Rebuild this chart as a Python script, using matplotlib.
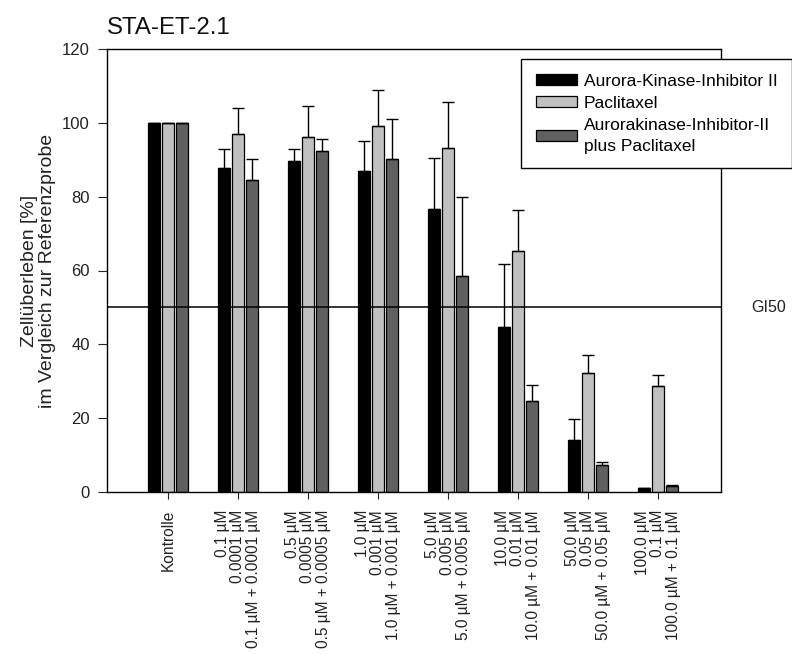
import matplotlib
matplotlib.use("Agg")
import matplotlib.pyplot as plt
import numpy as np

plt.rcParams['font.family'] = ['Liberation Sans', 'DejaVu Sans']

# data
groups = [
    "Kontrolle",
    "0.1 µM\n0.0001 µM\n0.1 µM + 0.0001 µM",
    "0.5 µM\n0.0005 µM\n0.5 µM + 0.0005 µM",
    "1.0 µM\n0.001 µM\n1.0 µM + 0.001 µM",
    "5.0 µM\n0.005 µM\n5.0 µM + 0.005 µM",
    "10.0 µM\n0.01 µM\n10.0 µM + 0.01 µM",
    "50.0 µM\n0.05 µM\n50.0 µM + 0.05 µM",
    "100.0 µM\n0.1 µM\n100.0 µM + 0.1 µM",
]
series_names = ["Aurora-Kinase-Inhibitor II", "Paclitaxel",
                "Aurorakinase-Inhibitor-II\nplus Paclitaxel"]
aurora = [100, 87.7, 89.7, 86.9, 76.6, 44.6, 14.1, 1.2]
aurora_err = [0, 5.2, 3.2, 8.1, 13.8, 17.1, 5.7, 0]
pacli = [100, 97.0, 96.2, 99.1, 93.2, 65.4, 32.3, 28.6]
pacli_err = [0, 6.9, 8.4, 9.7, 12.4, 11.1, 4.9, 3.1]
combo = [100, 84.5, 92.5, 90.1, 58.5, 24.7, 7.3, 1.6]
combo_err = [0, 5.6, 3.1, 11.0, 21.4, 4.2, 0.8, 0.3]
gi50 = 50

colors = ["#000000", "#c0c0c0", "#606060"]

fig = plt.figure(figsize=(7.92, 6.54), dpi=100)
ax = fig.add_axes([107 / 792, 1 - 492 / 654, 614 / 792, 443 / 654])

x = np.arange(len(groups))
width = 0.17
step = 0.2
for i, (vals, errs) in enumerate([(aurora, aurora_err), (pacli, pacli_err), (combo, combo_err)]):
    errs = np.array(errs)
    ax.bar(x + (i - 1) * step, vals, width, color=colors[i], edgecolor="#000000",
           linewidth=0.9, label=series_names[i], zorder=2,
           yerr=[np.zeros_like(errs), errs],
           error_kw=dict(ecolor="#000000", elinewidth=1, capsize=4.3, capthick=1))

ax.axhline(gi50, color="#000000", linewidth=1.1, zorder=3)
ax.text(1.05, gi50, "GI50", transform=ax.get_yaxis_transform(), ha="left",
        va="center", fontsize=11.5, color="#222222")

ax.set_xlim(-0.87, 7.9)
ax.set_ylim(0, 120)
ax.set_yticks(np.arange(0, 121, 20))
ax.set_xticks(x)
ax.set_xticklabels(groups, rotation=90, ha="center", va="top",
                   multialignment="right", linespacing=1.05)
ax.tick_params(axis="x", labelsize=11.2, pad=8, length=5, direction="out", colors="#222222")
ax.tick_params(axis="y", labelsize=12, length=6.5, pad=6, direction="out", colors="#222222")
for s in ax.spines.values():
    s.set_linewidth(1)

ax.set_ylabel("Zellüberleben [%]\nim Vergleich zur Referenzprobe", fontsize=14,
              color="#222222", labelpad=4, linespacing=1.1)
ax.set_title("STA-ET-2.1", loc="left", fontsize=17.3, pad=11, color="#111111")

leg = ax.legend(loc="upper left", bbox_to_anchor=(521 / 792, 1 - 59 / 654),
                bbox_transform=fig.transFigure, borderaxespad=0, fancybox=False,
                edgecolor="#000000", framealpha=1, fontsize=12.5, handlelength=2.35,
                handleheight=0.65, handletextpad=0.4, labelspacing=0.4,
                borderpad=0.85)
leg.get_frame().set_linewidth(1)
for t in leg.get_texts():
    t.set_linespacing(1.5)

fig.savefig("out.png", dpi=100)
